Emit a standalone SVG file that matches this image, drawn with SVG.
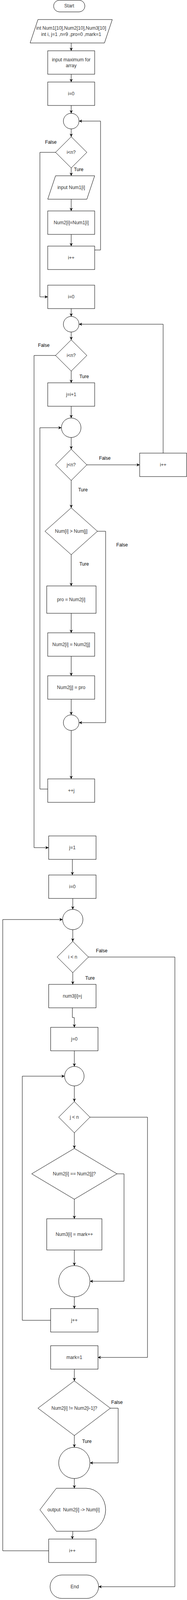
<svg xmlns="http://www.w3.org/2000/svg" width="478" height="4271" viewBox="0 0 478 4271">
<defs>
<style>
.s{fill:#fff;stroke:#000;stroke-width:1}
.t{font-family:"Liberation Sans",Arial,sans-serif;font-size:12px;fill:#333;text-anchor:middle;dominant-baseline:central;white-space:pre}
.l{font-family:"Liberation Sans",Arial,sans-serif;font-size:12px;fill:#000;text-anchor:middle;dominant-baseline:central}
.c{fill:none;stroke:#000;stroke-width:1;marker-end:url(#a)}
</style>
<marker id="a" viewBox="0 0 10 10" markerWidth="8" markerHeight="8" refX="10" refY="5" orient="auto" markerUnits="userSpaceOnUse">
<path d="M0,0 L10,5 L0,10 L3,5 Z" fill="#000"/>
</marker>
</defs>
<rect width="478" height="4271" fill="#fff"/>
<g id="connectors">
<path class="c" d="M182,110 V130"/>
<path class="c" d="M182,190 V210"/>
<path class="c" d="M182,270 V290"/>
<path class="c" d="M182,330 V350"/>
<path class="c" d="M182,430 V450"/>
<path class="c" d="M182,510 V540"/>
<path class="c" d="M182,600 V630"/>
<path class="c" d="M242,640 H257 V310 H202"/>
<path class="c" d="M142,390 H102 V760 H122"/>
<path class="c" d="M182,790 V810"/>
<path class="c" d="M182,850 V870"/>
<path class="c" d="M182,950 V980"/>
<path class="c" d="M182,1040 V1070"/>
<path class="c" d="M182,1120 V1150"/>
<path class="c" d="M222,1190 H357"/>
<path class="c" d="M417,1160 V830 H202"/>
<path class="c" d="M182,1230 V1300"/>
<path class="c" d="M182,1420 V1500"/>
<path class="c" d="M182,1570 V1620"/>
<path class="c" d="M182,1680 V1730"/>
<path class="c" d="M182,1790 V1830"/>
<path class="c" d="M249,1360 H270 V1850 H202"/>
<path class="c" d="M182,1870 V1994"/>
<path class="c" d="M122,2020 H102 V1095 H157"/>
<path class="c" d="M142,910 H87 V2170 H124"/>
<path class="c" d="M185,2200 V2240"/>
<path class="c" d="M186,2300 V2328"/>
<path class="c" d="M186,2380 V2410"/>
<path class="c" d="M226,2450 H447 V4062 H252"/>
<path class="c" d="M186,2490 V2520"/>
<path class="c" d="M185,2580 V2605 H190 V2630"/>
<path class="c" d="M190,2690 V2730"/>
<path class="c" d="M190,2780 V2820"/>
<path class="c" d="M230,2860 H377 V3475 H250"/>
<path class="c" d="M190,2900 V2940"/>
<path class="c" d="M299,3005 H317 V3280 H230"/>
<path class="c" d="M190,3070 V3120"/>
<path class="c" d="M190,3200 V3240"/>
<path class="c" d="M190,3320 V3350"/>
<path class="c" d="M129,3380 H57 V2755 H165"/>
<path class="c" d="M190,3505 V3535"/>
<path class="c" d="M282,3605 H302 V3745 H230"/>
<path class="c" d="M190,3675 V3705"/>
<path class="c" d="M190,3785 V3810"/>
<path class="c" d="M186,3920 V3930 H185 V3940"/>
<path class="c" d="M124,3970 H7 V2354 H160"/>
<text class="l" x="130" y="364">False</text>
<text class="l" x="201" y="434">Ture</text>
<text class="l" x="112" y="884">False</text>
<text class="l" x="215" y="964">Ture</text>
<text class="l" x="268" y="1173">False</text>
<text class="l" x="212" y="1254">Ture</text>
<text class="l" x="312" y="1395">False</text>
<text class="l" x="215" y="1444">Ture</text>
<text class="l" x="260" y="2434">False</text>
<text class="l" x="230" y="2504">Ture</text>
<text class="l" x="299" y="3590">False</text>
<text class="l" x="222" y="3690">Ture</text>
</g>
<g id="start"><rect class="s" x="137" y="0.5" width="80" height="30" rx="15"/><text class="t" x="177" y="15">Start</text></g>
<g id="decl"><path class="s" d="M97,50 H287 L267,110 H77 Z"/><text class="t" x="182" y="72">int Num1[10],Num2[10],Num3[10]</text><text class="t" x="182" y="88">int i, j=1 ,n=9 ,pro=0 ,mark=1</text></g>
<g id="inmax"><rect class="s" x="122" y="130" width="120" height="60"/><text class="t" x="182" y="153">input maximum for</text><text class="t" x="182" y="168">array</text></g>
<g id="i0a"><rect class="s" x="122" y="210" width="120" height="60"/><text class="t" x="182" y="240">i=0</text></g>
<g id="c1"><circle class="s" cx="182" cy="310" r="20"/></g>
<g id="d1"><path class="s" d="M182,350 L222,390 L182,430 L142,390 Z"/><text class="t" x="182" y="390">i&lt;n?</text></g>
<g id="in1"><path class="s" d="M142,450 H242 L222,510 H122 Z"/><text class="t" x="182" y="480">input Num1[i]</text></g>
<g id="copy"><rect class="s" x="122" y="540" width="120" height="60"/><text class="t" x="182" y="570">Num2[i]=Num1[i]</text></g>
<g id="inc1"><rect class="s" x="122" y="630" width="120" height="60"/><text class="t" x="182" y="660">i++</text></g>
<g id="i0b"><rect class="s" x="122" y="730" width="120" height="60"/><text class="t" x="182" y="760">i=0</text></g>
<g id="c2"><circle class="s" cx="182" cy="830" r="20"/></g>
<g id="d2"><path class="s" d="M182,870 L222,910 L182,950 L142,910 Z"/><text class="t" x="182" y="910">i&lt;n?</text></g>
<g id="ji1"><rect class="s" x="122" y="980" width="120" height="60"/><text class="t" x="182" y="1010">j=i+1</text></g>
<g id="c3"><circle class="s" cx="182" cy="1095" r="25"/></g>
<g id="d3"><path class="s" d="M182,1150 L222,1190 L182,1230 L142,1190 Z"/><text class="t" x="182" y="1190">j&lt;n?</text></g>
<g id="inc2"><rect class="s" x="357" y="1160" width="120" height="60"/><text class="t" x="417" y="1190">i++</text></g>
<g id="d4"><path class="s" d="M182,1300 L249,1360 L182,1420 L115,1360 Z"/><text class="t" x="182" y="1360">Num[i] &gt; Num[j]</text></g>
<g id="pro"><rect class="s" x="119.5" y="1500" width="126" height="70"/><text class="t" x="182" y="1535">pro = Num2[i]</text></g>
<g id="sw1"><rect class="s" x="122" y="1620" width="120" height="60"/><text class="t" x="182" y="1650">Num2[i] = Num2[j]</text></g>
<g id="sw2"><rect class="s" x="122" y="1730" width="120" height="60"/><text class="t" x="182" y="1760">Num2[j] = pro</text></g>
<g id="c4"><circle class="s" cx="182" cy="1850" r="20"/></g>
<g id="incj"><rect class="s" x="122" y="1994" width="120" height="60"/><text class="t" x="182" y="2024">++j</text></g>
<g id="j1"><rect class="s" x="124.5" y="2140" width="121" height="60"/><text class="t" x="185" y="2170">j=1</text></g>
<g id="i0c"><rect class="s" x="124.5" y="2240" width="121" height="60"/><text class="t" x="185" y="2270">i=0</text></g>
<g id="c5"><circle class="s" cx="186" cy="2354" r="26"/></g>
<g id="d5"><path class="s" d="M186,2410 L226,2450 L186,2490 L146,2450 Z"/><text class="t" x="186" y="2450">i &lt; n</text></g>
<g id="n3"><rect class="s" x="124.5" y="2520" width="121" height="60"/><text class="t" x="185" y="2550">num3[i]=j</text></g>
<g id="j0"><rect class="s" x="129.5" y="2630" width="121" height="60"/><text class="t" x="190" y="2660">j=0</text></g>
<g id="c6"><circle class="s" cx="190" cy="2755" r="25"/></g>
<g id="d6"><path class="s" d="M190,2820 L230,2860 L190,2900 L150,2860 Z"/><text class="t" x="190" y="2860">j &lt; n</text></g>
<g id="d7"><path class="s" d="M190,2940 L299,3005 L190,3070 L81,3005 Z"/><text class="t" x="190" y="3005">Num2[i] == Num2[j]?</text></g>
<g id="mk"><rect class="s" x="119.5" y="3120" width="141" height="80"/><text class="t" x="190" y="3160">Num3[i] = mark++</text></g>
<g id="c7"><circle class="s" cx="190" cy="3280" r="40"/></g>
<g id="incj2"><rect class="s" x="129.5" y="3350" width="121" height="60"/><text class="t" x="190" y="3380">j++</text></g>
<g id="mk1"><rect class="s" x="129.5" y="3445" width="121" height="60"/><text class="t" x="190" y="3475">mark=1</text></g>
<g id="d8"><path class="s" d="M190,3535 L282,3605 L190,3675 L97,3605 Z"/><text class="t" x="190" y="3605">Num2[i] != Num2[i-1]?</text></g>
<g id="c8"><circle class="s" cx="190" cy="3745" r="40"/></g>
<g id="out"><path class="s" d="M102,3865 L144,3810 H220 A50,55 0 0 1 220,3920 H144 Z"/><text class="t" x="188" y="3865">output  Num2[i] -&gt; Num[i]</text></g>
<g id="inc3"><rect class="s" x="124.5" y="3940" width="121" height="60"/><text class="t" x="185" y="3970">i++</text></g>
<g id="end"><rect class="s" x="128" y="4032" width="124" height="60" rx="30"/><text class="t" x="191" y="4062">End</text></g>
</svg>
